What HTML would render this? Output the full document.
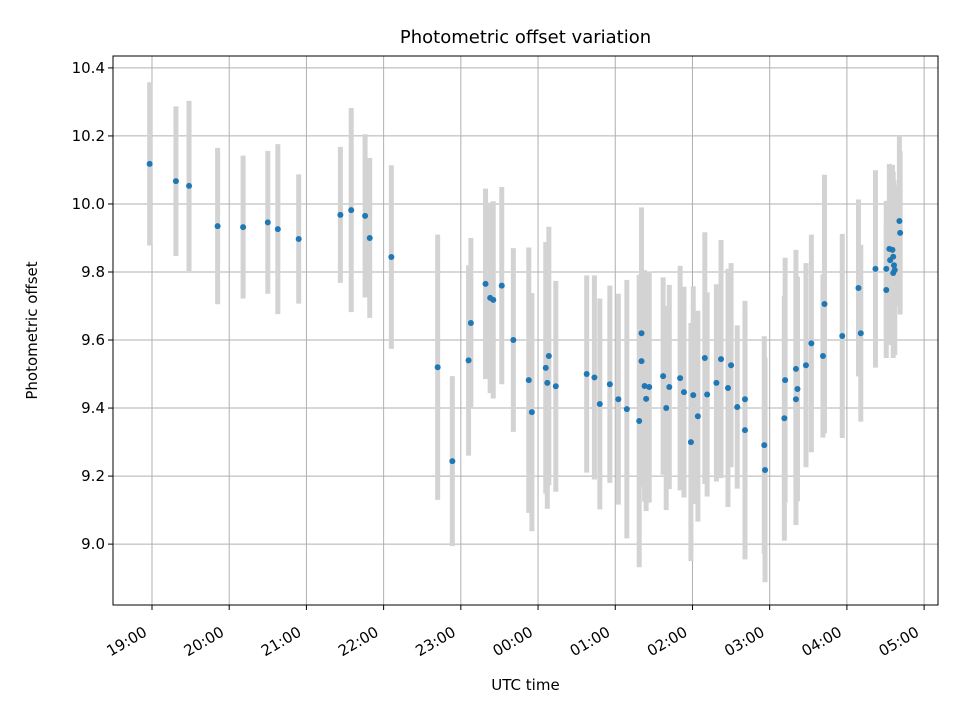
<!DOCTYPE html>
<html><head><meta charset="utf-8"><style>
html,body{margin:0;padding:0;background:#fff}
svg text{font-family:"DejaVu Sans","Liberation Sans",sans-serif;fill:#000}
</style></head><body>
<svg id="chart" width="960" height="720" xmlns="http://www.w3.org/2000/svg">
<rect width="960" height="720" fill="#fff"/>
<g id="grid"></g><g id="errs"></g><g id="pts"></g><g id="axes"></g>
</svg>
<script>
const times=[18.97,19.31,19.48,19.85,20.18,20.50,20.63,20.90,21.44,21.58,21.76,21.82,22.10,22.70,22.89,23.13,23.10,23.32,23.38,23.42,23.53,23.68,23.88,23.92,24.14,24.10,24.12,24.23,24.63,24.73,24.80,24.93,25.04,25.15,25.31,25.34,25.34,25.38,25.44,25.40,25.62,25.66,25.70,25.84,25.89,25.98,26.01,26.07,26.16,26.19,26.31,26.37,26.46,26.50,26.58,26.68,26.68,26.93,26.94,27.19,27.20,27.34,27.36,27.34,27.47,27.54,27.69,27.71,27.94,28.15,28.18,28.37,28.51,28.51,28.55,28.59,28.60,28.56,28.61,28.62,28.60,28.68,28.69];
const values=[10.118,10.067,10.053,9.935,9.932,9.946,9.926,9.897,9.968,9.982,9.965,9.900,9.844,9.520,9.244,9.650,9.540,9.765,9.724,9.718,9.760,9.600,9.482,9.388,9.553,9.518,9.474,9.464,9.500,9.490,9.412,9.470,9.426,9.397,9.362,9.620,9.538,9.465,9.462,9.427,9.494,9.400,9.462,9.488,9.447,9.300,9.438,9.376,9.547,9.440,9.474,9.544,9.459,9.526,9.403,9.426,9.335,9.291,9.218,9.370,9.482,9.515,9.456,9.426,9.526,9.590,9.553,9.706,9.612,9.753,9.620,9.809,9.747,9.809,9.868,9.865,9.845,9.835,9.820,9.806,9.797,9.950,9.915];
const errors=[0.24,0.22,0.25,0.23,0.21,0.21,0.25,0.19,0.20,0.30,0.24,0.235,0.27,0.39,0.25,0.25,0.28,0.28,0.28,0.29,0.29,0.27,0.39,0.35,0.38,0.37,0.37,0.31,0.29,0.30,0.31,0.29,0.31,0.38,0.43,0.37,0.37,0.34,0.34,0.33,0.29,0.30,0.30,0.33,0.31,0.35,0.32,0.31,0.37,0.30,0.29,0.35,0.35,0.30,0.24,0.26,0.38,0.32,0.33,0.36,0.36,0.35,0.33,0.37,0.30,0.32,0.24,0.38,0.30,0.26,0.26,0.29,0.20,0.20,0.25,0.25,0.25,0.25,0.25,0.25,0.25,0.25,0.24];
const xTickHours=[19,20,21,22,23,24,25,26,27,28,29];
const xTickLabels=["19:00","20:00","21:00","22:00","23:00","00:00","01:00","02:00","03:00","04:00","05:00"];
const yTicks=[9.0,9.2,9.4,9.6,9.8,10.0,10.2,10.4];

const L=113,R=938,T=56,B=605;
const x0=18.495,x1=29.18,y0=8.821,y1=10.435;
const sx=t=>L+(t-x0)/(x1-x0)*(R-L);
const sy=v=>B-(v-y0)/(y1-y0)*(B-T);
const NS="http://www.w3.org/2000/svg";
function mk(tag,attrs,parent){const e=document.createElementNS(NS,tag);for(const k in attrs)e.setAttribute(k,attrs[k]);parent.appendChild(e);return e;}
const grid=document.getElementById('grid'),errs=document.getElementById('errs'),pts=document.getElementById('pts'),axes=document.getElementById('axes');

xTickHours.forEach((h,i)=>{
  const x=sx(h);
  const g=mk('line',{x1:x,x2:x,y1:T,y2:B,stroke:'#b0b0b0','stroke-width':1},grid);
  
  
  const tk=mk('line',{x1:x,x2:x,y1:B,y2:B+5,stroke:'#000','stroke-width':1},axes);
  
  
  const ax=x-4, ay=B+30;
  const tx=mk('text',{x:ax,y:ay,'font-size':15,'text-anchor':'end',transform:`rotate(-30 ${ax} ${ay})`},axes);
  tx.textContent=xTickLabels[i];
  
  
});
yTicks.forEach(v=>{
  const y=sy(v);
  const g=mk('line',{x1:L,x2:R,y1:y,y2:y,stroke:'#b0b0b0','stroke-width':1},grid);
  
  
  const tk=mk('line',{x1:L-5,x2:L,y1:y,y2:y,stroke:'#000','stroke-width':1},axes);
  
  
  const tx=mk('text',{x:L-8,y:y+5,'font-size':15,'text-anchor':'end'},axes);
  tx.textContent=v.toFixed(1);
  
  
});
times.forEach((t,i)=>{
  const x=sx(t);
  const e=mk('line',{x1:x,x2:x,y1:sy(values[i]+errors[i]),y2:sy(values[i]-errors[i]),stroke:'#d3d3d3','stroke-width':5},errs);
  
  
  const c=mk('circle',{cx:x,cy:sy(values[i]),r:3,fill:'#1f77b4'},pts);
  
  
});
const fr=mk('rect',{x:L,y:T,width:R-L,height:B-T,fill:'none',stroke:'#000','stroke-width':1},axes);


const title=mk('text',{x:(L+R)/2,y:43,'font-size':18,'text-anchor':'middle'},axes);
title.textContent='Photometric offset variation';


const xt=mk('text',{x:(L+R)/2,y:690,'font-size':15,'text-anchor':'middle'},axes);
xt.textContent='UTC time';


const yt=mk('text',{x:37,y:(T+B)/2,'font-size':15,'text-anchor':'middle',transform:`rotate(-90 37 ${(T+B)/2})`},axes);
yt.textContent='Photometric offset';


</script>
</body></html>
